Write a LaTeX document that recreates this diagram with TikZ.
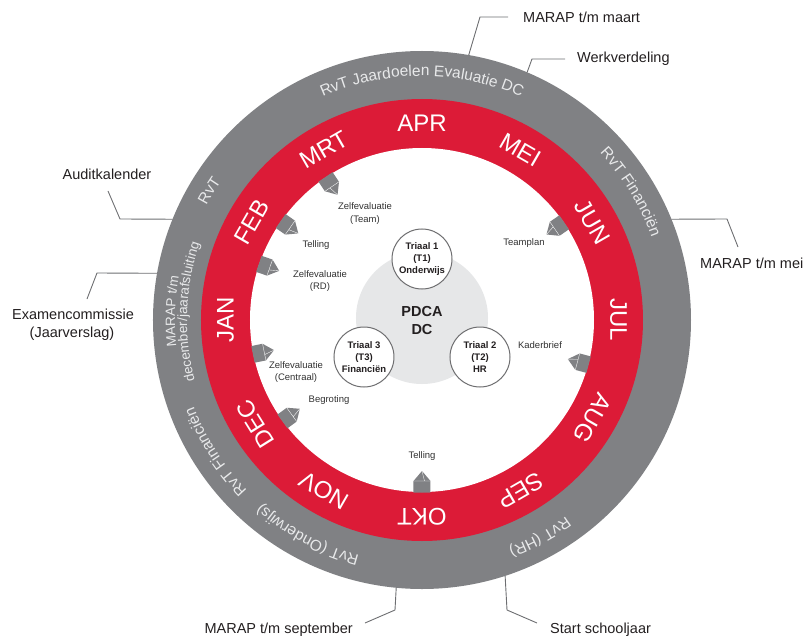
\documentclass[tikz,border=0pt]{standalone}
\usepackage{fontspec}
\setmainfont{Liberation Sans}
\usetikzlibrary{decorations.text}
\definecolor{ringgray}{RGB}{128,129,132}
\definecolor{ringred}{RGB}{220,27,55}
\definecolor{ringtxt}{RGB}{232,233,234}
\definecolor{leader}{RGB}{109,110,113}
\definecolor{labtxt}{RGB}{35,31,32}
\definecolor{smalltxt}{RGB}{51,51,51}
\definecolor{pdcagray}{RGB}{230,231,232}
\definecolor{circedge}{RGB}{110,110,112}
\newcommand{\ringfnt}{\fontsize{15.5}{18}\selectfont}
\newcommand{\ringfnts}{\fontsize{13.5}{16}\selectfont}
\newcommand{\pencilmark}[1]{%
  \begin{scope}[rotate=#1]
    \fill[ringgray] (172.5,-8.5) -- (161,-8.5) -- (151,0) -- (161,8.5) -- (172.5,8.5) -- cycle;
    \draw[white, line width=0.35pt] (161,-8.5) -- (161,8.5) (161,2.5) -- (151,0);
  \end{scope}}
\begin{document}
\begin{tikzpicture}[x=1pt,y=1pt,
  month/.style={text=white, font=\fontsize{24}{24}\selectfont, inner sep=0pt},
  leaderline/.style={draw=leader, line width=0.9pt},
  biglabel/.style={text=labtxt, font=\fontsize{14.5}{19}\selectfont, inner sep=0pt},
  smalllabel/.style={text=smalltxt, font=\fontsize{9.5}{12.5}\selectfont, align=center, inner sep=0pt},
  triaal/.style={circle, draw=circedge, line width=1pt, fill=white, minimum size=60pt, inner sep=0pt, align=center, font=\bfseries\fontsize{9.5}{12.2}\selectfont, text=labtxt},
  ringlabel/.style={decorate, decoration={text along path, text align=center, text color=ringtxt, text={#1}}}
]
\useasboundingbox (-422,-315) rectangle (381,320);

% rings
\fill[ringgray] (0,0) circle[radius=269];
\fill[ringred] (0,0) circle[radius=221];
\fill[white] (0,0) circle[radius=172];
\fill[pdcagray] (0,2) circle[radius=66];

% months
\node[month, rotate=0]    (apr) at (90:196.5)  {APR};
\node[month, rotate=-30]  (mei) at (60:196.5)  {MEI};
\node[month, rotate=-60]  (jun) at (30:196.5)  {JUN};
\node[month, rotate=-90]  (jul) at (0:196.5)   {JUL};
\node[month, rotate=-120] (aug) at (-30:196.5) {AUG};
\node[month, rotate=-150] (sep) at (-60:196.5) {SEP};
\node[month, rotate=-180] (okt) at (-90:196.5) {OKT};
\node[month, rotate=-210] (nov) at (-120:196.5) {NOV};
\node[month, rotate=-238] (dec) at (-148:196.5) {DEC};
\node[month, rotate=90]   (jan) at (180:196.5) {JAN};
\node[month, rotate=60]   (feb) at (150:196.5) {FEB};
\node[month, rotate=30]   (mrt) at (120:196.5) {MRT};

% ring texts
\path[ringlabel={|\ringfnt|RvT Jaardoelen Evaluatie DC}] (140:244) arc[start angle=140, end angle=40, radius=244];
\path[ringlabel={|\ringfnt|RvT Financiën}] (71.5:244) arc[start angle=71.5, end angle=-8.5, radius=244];
\path[ringlabel={|\ringfnt|RvT (HR)}] (-21.5:244) arc[start angle=-21.5, end angle=-101.5, radius=244];
\path[ringlabel={|\ringfnt|RvT (Onderwijs)}] (-78:244) arc[start angle=-78, end angle=-158, radius=244];
\path[ringlabel={|\ringfnt|RvT Financiën}] (-107.5:244) arc[start angle=-107.5, end angle=-187.5, radius=244];
\path[ringlabel={|\ringfnts|MARAP t/m}] (218:247) arc[start angle=218, end angle=138, radius=247];
\path[ringlabel={|\ringfnts|december/jaarafsluiting}] (218:235) arc[start angle=218, end angle=138, radius=235];
\path[ringlabel={|\ringfnt|RvT}] (188.7:244) arc[start angle=188.7, end angle=108.7, radius=244];

% pencil markers
\pencilmark{124}
\pencilmark{145}
\pencilmark{161}
\pencilmark{-168.5}
\pencilmark{-144}
\pencilmark{-90}
\pencilmark{-15}
\pencilmark{34.5}

% small labels
\node[smalllabel] (zteam) at (-57,106.5) {Zelfevaluatie\\(Team)};
\node[smalllabel] (tel1) at (-106,74.5) {Telling};
\node[smalllabel] (zrd) at (-102,39) {Zelfevaluatie\\(RD)};
\node[smalllabel] (team) at (102,77) {Teamplan};
\node[smalllabel] (kader) at (118,-25) {Kaderbrief};
\node[smalllabel] (zcen) at (-126,-52) {Zelfevaluatie\\(Centraal)};
\node[smalllabel] (begr) at (-93,-80.5) {Begroting};
\node[smalllabel] (tel2) at (0,-136) {Telling};

% centre
\node[text=labtxt, font=\bfseries\fontsize{14.5}{18}\selectfont, align=center, inner sep=0pt] (pdca) at (0,-1) {PDCA\\DC};
\node[triaal] (t1) at (0,61) {Triaal 1\\(T1)\\Onderwijs};
\node[triaal] (t2) at (58,-37) {Triaal 2\\(T2)\\HR};
\node[triaal] (t3) at (-58,-37) {Triaal 3\\(T3)\\Financiën};

% leader labels
\coordinate (rmaart) at (80:269);
\coordinate (emaart) at (86,303);
\node[biglabel, anchor=west] (maart) at (101,303) {MARAP t/m maart};
\draw[leaderline] (rmaart) -- (58,303) -- (emaart);

\coordinate (rwerk) at (67:269);
\coordinate (ewerk) at (143,261);
\node[biglabel, anchor=west] (werk) at (155,261) {Werkverdeling};
\draw[leaderline] (rwerk) -- (110,261) -- (ewerk);

\coordinate (rmei) at (22:269);
\coordinate (emei) at (316,73);
\node[biglabel, anchor=west] (mei2) at (278,57) {MARAP t/m mei};
\draw[leaderline] (rmei) -- (305,101) -- (emei);

\coordinate (rstart) at (-72:269);
\coordinate (estart) at (115,-303);
\node[biglabel, anchor=base west] (start) at (128,-313) {Start schooljaar};
\draw[leaderline] (rstart) -- (85,-290) -- (estart);

\coordinate (rsep) at (-95.5:269);
\coordinate (esep) at (-57,-303);
\node[biglabel, anchor=base east] (sept) at (-69,-313) {MARAP t/m september};
\draw[leaderline] (rsep) -- (-27,-290) -- (esep);

\coordinate (raudit) at (158:269);
\coordinate (eaudit) at (-314,129);
\node[biglabel, anchor=base] (audit) at (-315,140) {Auditkalender};
\draw[leaderline] (raudit) -- (-302,101) -- (eaudit);

\coordinate (rexam) at (170:269);
\coordinate (eexam) at (-335,21);
\node[biglabel, anchor=base] (exam1) at (-349,0.7) {Examencommissie};
\node[biglabel, anchor=base] (exam2) at (-350,-17) {(Jaarverslag)};
\draw[leaderline] (rexam) -- (-325,47) -- (eexam);
\end{tikzpicture}
\end{document}
